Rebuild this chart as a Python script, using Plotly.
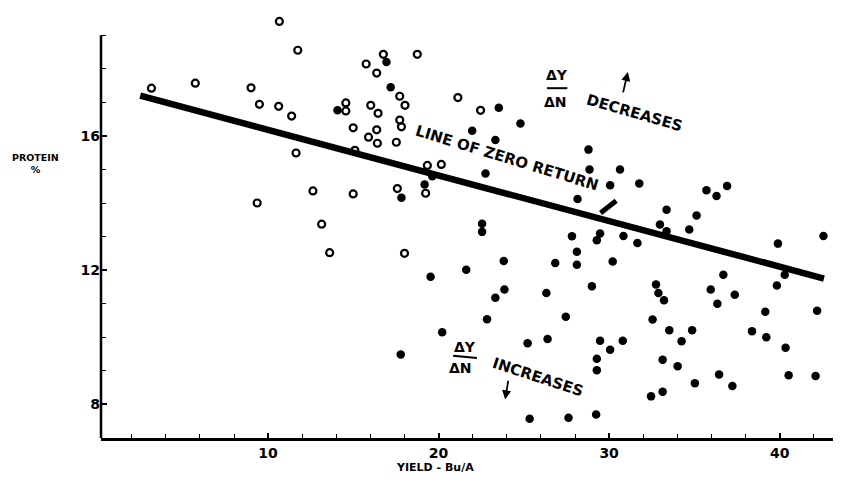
import plotly.graph_objects as go

# Open circles (hollow markers)
open_x = [10.66, 11.74, 5.73, 3.16, 9.0, 9.49, 10.62, 11.38, 11.64, 9.36, 12.63, 14.99,
          17.58, 19.24, 19.34, 20.16, 15.09, 14.99, 14.56, 14.56, 15.75, 16.37, 16.76,
          17.72, 18.03, 18.75, 16.02, 16.45, 16.37, 15.89, 16.41, 17.52, 17.72, 17.82,
          21.13, 22.46, 13.14, 13.61, 18.0]
open_y = [19.41, 18.55, 17.57, 17.42, 17.43, 16.94, 16.88, 16.59, 15.49, 14.0, 14.36, 14.27,
          14.43, 14.29, 15.12, 15.15, 15.57, 16.24, 16.98, 16.74, 18.14, 17.87, 18.43,
          17.18, 16.91, 18.43, 16.91, 16.67, 16.18, 15.96, 15.78, 15.81, 16.47, 16.27,
          17.14, 16.76, 13.37, 12.52, 12.5]

# Filled circles
fill_x = [16.94, 17.19, 14.07, 17.82, 19.18, 19.63, 23.53, 24.8, 21.97, 23.33, 28.79, 28.85,
          30.64, 30.06, 31.77, 35.71, 36.3, 36.92, 22.75, 28.15, 22.55, 22.55, 27.82,
          29.47, 29.28, 30.84, 31.66, 28.11, 28.11, 26.84, 30.21, 23.82, 21.62, 19.53, 33.37,
          35.13, 32.98, 33.37, 34.70, 39.9, 42.57, 36.7, 40.3, 23.86, 23.33, 26.32, 28.99,
          22.84, 20.21, 27.46, 17.78, 25.22, 26.39, 29.47, 30.06, 30.8, 29.28, 29.28, 25.34,
          27.62, 29.24, 32.75, 32.89, 33.22, 35.96, 37.37, 36.35, 39.84, 39.16, 42.2, 32.55,
          33.53, 34.87, 34.25, 38.38, 39.22, 40.35, 33.14, 34.02, 36.45, 37.23, 35.03, 40.53,
          42.11, 32.46, 33.14]
fill_y = [18.2, 17.45, 16.76, 14.16, 14.55, 14.8, 16.84, 16.37, 16.15, 15.88, 15.59, 15.0,
          15.0, 14.53, 14.58, 14.38, 14.21, 14.51, 14.88, 14.12, 13.38, 13.14, 13.01,
          13.09, 12.89, 13.02, 12.81, 12.55, 12.16, 12.21, 12.26, 12.27, 12.01, 11.8, 13.8,
          13.63, 13.36, 13.16, 13.21, 12.79, 13.02, 11.86, 11.86, 11.42, 11.18, 11.32, 11.52,
          10.54, 10.15, 10.61, 9.49, 9.82, 9.95, 9.9, 9.63, 9.9, 9.36, 9.02, 7.57,
          7.6, 7.7, 11.57, 11.32, 11.1, 11.42, 11.27, 11.0, 11.54, 10.76, 10.79, 10.53,
          10.21, 10.21, 9.88, 10.18, 10.0, 9.69, 9.33, 9.14, 8.89, 8.55, 8.63, 8.87,
          8.85, 8.24, 8.38]

# Line of zero return
line_x = [2.5, 42.6]
line_y = [17.2, 11.75]

x_ticks = [10, 20, 30, 40]
y_ticks = [8, 12, 16]
y_axis_span = [7.0, 19.0]

FONT = "DejaVu Sans"

fig = go.Figure()
fig.add_trace(go.Scatter(x=line_x, y=line_y, mode="lines",
                         line=dict(color="black", width=6.5), cliponaxis=False,
                         showlegend=False, hoverinfo="skip"))
fig.add_trace(go.Scatter(x=open_x, y=open_y, mode="markers", cliponaxis=False,
                         marker=dict(symbol="circle-open", size=7, color="black",
                                     line=dict(width=2.2, color="black")),
                         showlegend=False))
fig.add_trace(go.Scatter(x=fill_x, y=fill_y, mode="markers", cliponaxis=False,
                         marker=dict(symbol="circle", size=8.5, color="black"),
                         showlegend=False))

txt = dict(family=FONT, size=14, color="black", weight="bold")
lab = dict(family=FONT, size=15, color="black", weight="bold")

ann = []
ann.append(dict(x=24.0, y=15.35, xref="x", yref="y", text="LINE OF ZERO RETURN",
                showarrow=False, textangle=17, font=lab))
# pointer from label to line
ann.append(dict(x=29.5, y=13.7, ax=30.5, ay=14.1, xref="x", yref="y", axref="x", ayref="y",
                text="", showarrow=True, arrowhead=0, arrowwidth=5, arrowcolor="black"))
# Upper label
ann.append(dict(x=26.95, y=17.8, xref="x", yref="y", text="ΔY", showarrow=False, font=txt))
ann.append(dict(x=26.85, y=17.02, xref="x", yref="y", text="ΔN", showarrow=False, font=txt))
ann.append(dict(x=31.5, y=16.68, xref="x", yref="y", text="DECREASES", showarrow=False,
                textangle=16, font=lab))
ann.append(dict(x=31.1, y=17.9, ax=30.8, ay=17.25, xref="x", yref="y", axref="x", ayref="y",
                text="", showarrow=True, arrowhead=2, arrowsize=1, arrowwidth=1.8, arrowcolor="black"))
# Lower label
ann.append(dict(x=21.56, y=9.72, xref="x", yref="y", text="ΔY", showarrow=False, font=txt))
ann.append(dict(x=21.3, y=9.1, xref="x", yref="y", text="ΔN", showarrow=False, font=txt))
ann.append(dict(x=25.8, y=8.83, xref="x", yref="y", text="INCREASES", showarrow=False,
                textangle=18, font=lab))
ann.append(dict(x=23.9, y=8.15, ax=24.1, ay=8.75, xref="x", yref="y", axref="x", ayref="y",
                text="", showarrow=True, arrowhead=2, arrowsize=1, arrowwidth=1.8, arrowcolor="black"))
# Axis titles
ann.append(dict(x=19.8, y=-0.0686, xref="x", yref="paper", yanchor="middle", xanchor="center",
                text="YIELD - Bu/A", showarrow=False,
                font=dict(family=FONT, size=11, color="black", weight="bold")))
ann.append(dict(x=-0.088, y=0.650, xref="paper", yref="paper", xanchor="center", yanchor="middle",
                text="PROTEIN<br>%", showarrow=False,
                font=dict(family=FONT, size=9.5, color="black", weight="bold")))

shapes = [
    # fraction bars
    dict(type="line", xref="x", yref="y", x0=26.35, x1=27.55, y0=17.42, y1=17.42,
         line=dict(color="black", width=2)),
    dict(type="line", xref="x", yref="y", x0=20.85, x1=22.25, y0=9.45, y1=9.38,
         line=dict(color="black", width=2)),
    # vertical axis line (drawn only over the labelled span)
    dict(type="line", xref="paper", yref="y", x0=0, x1=0,
         y0=y_axis_span[0], y1=y_axis_span[1], line=dict(color="black", width=2.5)),
]

fig.update_layout(
    width=833, height=473,
    margin=dict(l=93, r=0, t=7, b=43),
    paper_bgcolor="white", plot_bgcolor="white",
    annotations=ann, shapes=shapes,
    xaxis=dict(range=[0.2, 43.6], tickvals=x_ticks, showgrid=False, zeroline=False,
               showline=True, linecolor="black", linewidth=2.5, ticks="inside",
               ticklen=5, tickwidth=1.5, tickcolor="black",
               minor=dict(dtick=2, tick0=0, ticks="inside", ticklen=4, tickwidth=1.2, tickcolor="black"),
               tickfont=dict(family=FONT, size=14, color="black", weight="bold")),
    yaxis=dict(range=[7.0, 19.6], tickvals=y_ticks, showgrid=False, zeroline=False,
               showline=False, ticks="inside",
               ticklen=6, tickwidth=1.5, tickcolor="black",
               minor=dict(tickvals=[9, 10, 11, 13, 14, 15, 17, 18, 19], ticks="inside",
                          ticklen=5, tickwidth=1.2, tickcolor="black"),
               tickfont=dict(family=FONT, size=14, color="black", weight="bold")),
)

fig.write_html("out.html")
